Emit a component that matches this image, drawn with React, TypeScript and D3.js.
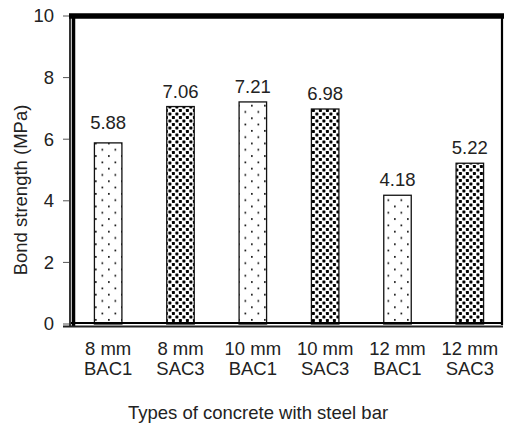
import React from "react";
import * as d3 from "d3";

const categoriesTop = ["8 mm", "8 mm", "10 mm", "10 mm", "12 mm", "12 mm"];
const categoriesBottom = ["BAC1", "SAC3", "BAC1", "SAC3", "BAC1", "SAC3"];
const values = [5.88, 7.06, 7.21, 6.98, 4.18, 5.22];
const valueLabels = ["5.88", "7.06", "7.21", "6.98", "4.18", "5.22"];
const yTicks = [0, 2, 4, 6, 8, 10];

const W = 505;
const H = 437;
const FONT = "'Liberation Sans', Arial, sans-serif";
const FS = 18.5;

export default function App() {
  const ids = values.map((_, i) => `c${i}`);
  const x = d3
    .scaleBand<string>()
    .domain(ids)
    .range([72, 506])
    .paddingInner(0.62)
    .paddingOuter(0.31);
  const y = d3.scaleLinear().domain([0, 10]).range([324, 16]);

  return (
    <svg
      width={W}
      height={H}
      style={{ position: "absolute", left: 0, top: 0, background: "#fff" }}
      fontFamily={FONT}
    >
      <defs>
        <pattern id="sparse" width={13} height={12.6} patternUnits="userSpaceOnUse" x={2} y={2}>
          <rect width={13} height={12.6} fill="#fff" />
          <rect x={2} y={2} width={1.7} height={1.7} fill="#111" />
          <rect x={8.5} y={8.3} width={1.7} height={1.7} fill="#111" />
        </pattern>
        <pattern id="dense" width={7} height={7} patternUnits="userSpaceOnUse">
          <rect width={7} height={7} fill="#fff" />
          <rect x={0.4} y={0.4} width={3} height={3} rx={0.6} fill="#000" />
          <rect x={3.9} y={3.9} width={3} height={3} rx={0.6} fill="#000" />
        </pattern>
      </defs>

      {/* bars */}
      {values.map((v, i) => (
        <rect
          key={i}
          x={x(ids[i])!}
          y={y(v)}
          width={x.bandwidth()}
          height={y(0) - y(v)}
          fill={i % 2 === 0 ? "url(#sparse)" : "url(#dense)"}
          stroke="#111"
          strokeWidth={1.3}
        />
      ))}

      {/* value labels */}
      {values.map((v, i) => (
        <text
          key={i}
          x={x(ids[i])! + x.bandwidth() / 2}
          y={y(v) - (i === 0 ? 14 : 9)}
          textAnchor="middle"
          fontSize={FS}
          fill="#222"
        >
          {valueLabels[i]}
        </text>
      ))}

      {/* frame */}
      <line x1={69} x2={504} y1={16} y2={16} stroke="#000" strokeWidth={5.5} />
      <line x1={502} x2={502} y1={16} y2={325} stroke="#000" strokeWidth={2.2} />
      <line x1={70} x2={70} y1={14} y2={327} stroke="#000" strokeWidth={1.6} />
      <line x1={73.5} x2={73.5} y1={14} y2={327} stroke="#000" strokeWidth={3.5} />
      <line x1={71} x2={503} y1={323} y2={323} stroke="#000" strokeWidth={2.2} />
      <line x1={63} x2={503} y1={326.5} y2={326.5} stroke="#222" strokeWidth={2} />

      {/* y ticks */}
      {yTicks.map((t) => (
        <g key={t}>
          <line x1={63} x2={69} y1={y(t)} y2={y(t)} stroke="#555" strokeWidth={1} />
          <text
            x={54}
            y={y(t)}
            dy="0.35em"
            textAnchor="end"
            fontSize={FS}
            fill="#222"
          >
            {t}
          </text>
        </g>
      ))}

      {/* x category labels */}
      {ids.map((id, i) => (
        <g key={id}>
          <text
            x={x(id)! + x.bandwidth() / 2}
            y={355}
            textAnchor="middle"
            fontSize={FS}
            fill="#222"
          >
            {categoriesTop[i]}
          </text>
          <text
            x={x(id)! + x.bandwidth() / 2}
            y={375}
            textAnchor="middle"
            fontSize={FS}
            fill="#222"
          >
            {categoriesBottom[i]}
          </text>
        </g>
      ))}

      {/* axis titles */}
      <text x={258} y={419} textAnchor="middle" fontSize={FS} fill="#222">
        Types of concrete with steel bar
      </text>
      <text
        transform="translate(27,190) rotate(-90)"
        textAnchor="middle"
        fontSize={FS}
        fill="#222"
      >
        Bond strength (MPa)
      </text>
    </svg>
  );
}
